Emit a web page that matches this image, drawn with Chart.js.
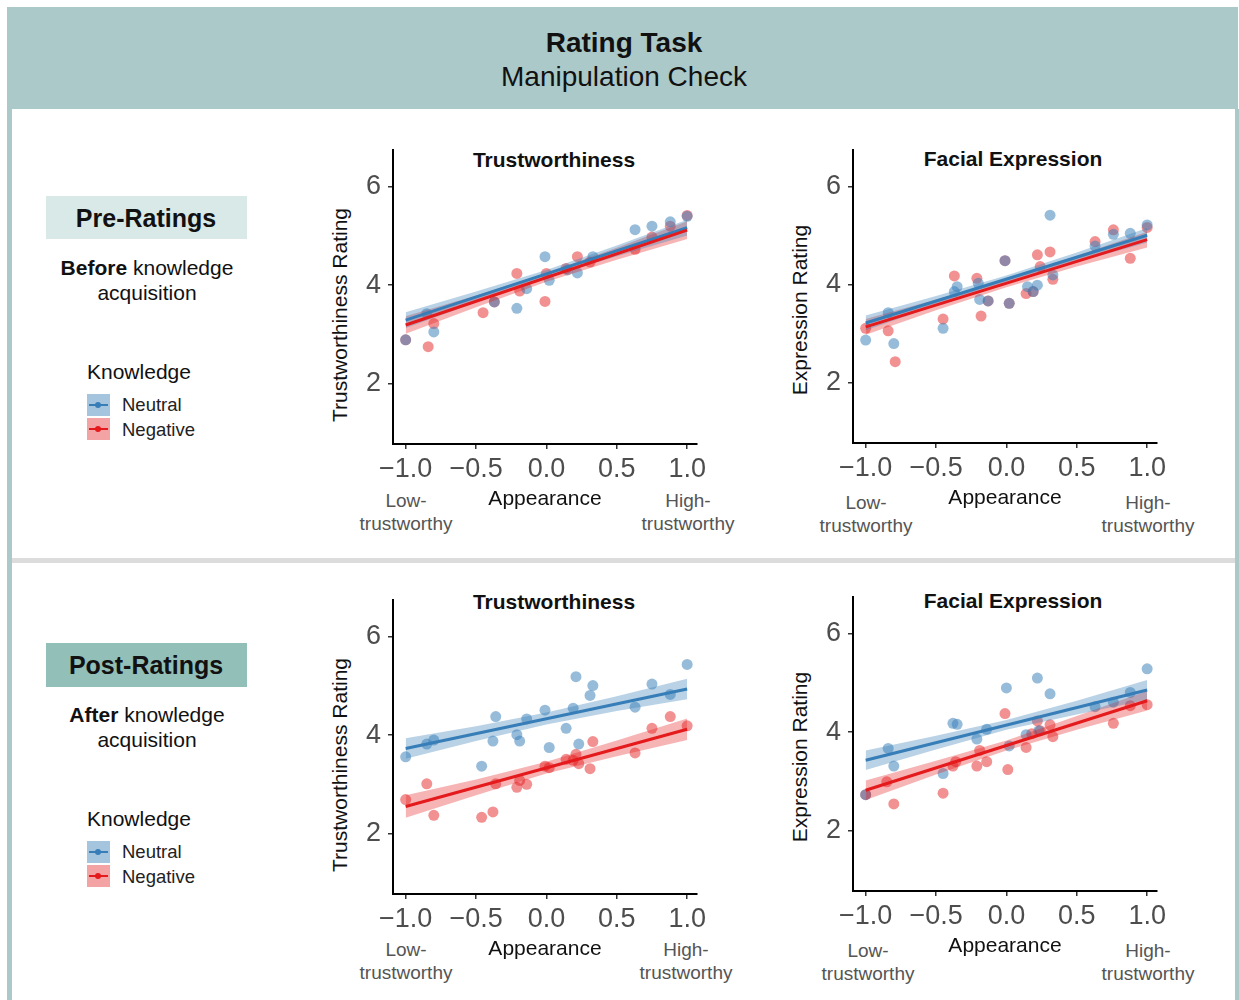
<!DOCTYPE html>
<html>
<head>
<meta charset="utf-8">
<script src="https://cdn.jsdelivr.net/npm/chart.js@4.4.1/dist/chart.umd.min.js"></script>
<style>
  body { margin: 0; background: #fff; font-family: "Liberation Sans", Arial, sans-serif; }
  #page { position: relative; width: 1239px; height: 1000px; overflow: hidden; background: #fff; }
  .abs { position: absolute; }
  .ctr { position: absolute; transform: translate(-50%, -50%); white-space: nowrap; text-align: center; }
  .rot { position: absolute; transform: translate(-50%, -50%) rotate(-90deg); white-space: nowrap; font-size: 21px; color: #111; }
  canvas { position: absolute; }
  .key { position: absolute; width: 23px; height: 22px; }
  .key i { position: absolute; left: 2px; right: 2px; top: 10px; height: 2px; }
  .key b { position: absolute; left: 8px; top: 8px; width: 6px; height: 6px; border-radius: 50%; }
</style>
</head>
<body>
<div id="page">
  <!-- frame -->
  <div class="abs" style="left:7px;top:7px;width:1231px;height:102px;background:#abc9c9;"></div>
  <div class="abs" style="left:7px;top:109px;width:5px;height:891px;background:#abc9c9;"></div>
  <div class="abs" style="left:1235px;top:109px;width:4px;height:891px;background:#abc9c9;"></div>
  <div class="abs" style="left:12px;top:558px;width:1223px;height:5px;background:#dcdcdc;"></div>

  <div class="ctr" style="left:624px;top:43px;font-size:28px;font-weight:bold;color:#111;">Rating Task</div>
  <div class="ctr" style="left:624px;top:77px;font-size:28px;color:#111;">Manipulation Check</div>

  <!-- pre side panel -->
  <div class="abs" style="left:46px;top:196px;width:201px;height:43px;background:#d9e9e7;"></div>
  <div class="ctr" style="left:146px;top:218px;font-size:25px;font-weight:bold;color:#111;">Pre-Ratings</div>
  <div class="ctr" style="left:147px;top:268px;font-size:21px;color:#111;"><b>Before</b> knowledge</div>
  <div class="ctr" style="left:147px;top:293px;font-size:21px;color:#111;">acquisition</div>
  <div class="abs" style="left:87px;top:360px;font-size:21px;color:#111;">Knowledge</div>
  <div class="key" style="left:87px;top:394px;background:rgba(55,126,184,0.45);"><i style="background:#377eb8"></i><b style="background:#377eb8"></b></div>
  <div class="key" style="left:87px;top:418px;background:rgba(228,26,28,0.4);"><i style="background:#e41a1c"></i><b style="background:#e41a1c"></b></div>
  <div class="abs" style="left:122px;top:394px;font-size:18.5px;color:#222;">Neutral</div>
  <div class="abs" style="left:122px;top:419px;font-size:18.5px;color:#222;">Negative</div>

  <!-- post side panel -->
  <div class="abs" style="left:46px;top:643px;width:201px;height:44px;background:#92bfb8;"></div>
  <div class="ctr" style="left:146px;top:665px;font-size:25px;font-weight:bold;color:#111;">Post-Ratings</div>
  <div class="ctr" style="left:147px;top:715px;font-size:21px;color:#111;"><b>After</b> knowledge</div>
  <div class="ctr" style="left:147px;top:740px;font-size:21px;color:#111;">acquisition</div>
  <div class="abs" style="left:87px;top:807px;font-size:21px;color:#111;">Knowledge</div>
  <div class="key" style="left:87px;top:841px;background:rgba(55,126,184,0.45);"><i style="background:#377eb8"></i><b style="background:#377eb8"></b></div>
  <div class="key" style="left:87px;top:865px;background:rgba(228,26,28,0.4);"><i style="background:#e41a1c"></i><b style="background:#e41a1c"></b></div>
  <div class="abs" style="left:122px;top:841px;font-size:18.5px;color:#222;">Neutral</div>
  <div class="abs" style="left:122px;top:866px;font-size:18.5px;color:#222;">Negative</div>

  <!-- plot titles -->
  <div class="ctr" style="left:554px;top:160px;font-size:21px;font-weight:bold;color:#111;">Trustworthiness</div>
  <div class="ctr" style="left:1013px;top:159px;font-size:21px;font-weight:bold;color:#111;">Facial Expression</div>
  <div class="ctr" style="left:554px;top:602px;font-size:21px;font-weight:bold;color:#111;">Trustworthiness</div>
  <div class="ctr" style="left:1013px;top:601px;font-size:21px;font-weight:bold;color:#111;">Facial Expression</div>

  <!-- y axis titles -->
  <div class="rot" style="left:340px;top:315px;">Trustworthiness Rating</div>
  <div class="rot" style="left:800px;top:310px;">Expression Rating</div>
  <div class="rot" style="left:340px;top:765px;">Trustworthiness Rating</div>
  <div class="rot" style="left:800px;top:757px;">Expression Rating</div>

  <!-- end labels under the x axis -->
  <div class="ctr" style="left:406px;top:512px;font-size:19px;color:#555;line-height:23px;">Low-<br>trustworthy</div>
  <div class="ctr" style="left:688px;top:512px;font-size:19px;color:#555;line-height:23px;">High-<br>trustworthy</div>
  <div class="ctr" style="left:866px;top:514px;font-size:19px;color:#555;line-height:23px;">Low-<br>trustworthy</div>
  <div class="ctr" style="left:1148px;top:514px;font-size:19px;color:#555;line-height:23px;">High-<br>trustworthy</div>
  <div class="ctr" style="left:406px;top:961px;font-size:19px;color:#555;line-height:23px;">Low-<br>trustworthy</div>
  <div class="ctr" style="left:686px;top:961px;font-size:19px;color:#555;line-height:23px;">High-<br>trustworthy</div>
  <div class="ctr" style="left:868px;top:962px;font-size:19px;color:#555;line-height:23px;">Low-<br>trustworthy</div>
  <div class="ctr" style="left:1148px;top:962px;font-size:19px;color:#555;line-height:23px;">High-<br>trustworthy</div>

  <canvas id="preTrust"></canvas>
  <canvas id="preExpr"></canvas>
  <canvas id="postTrust"></canvas>
  <canvas id="postExpr"></canvas>
</div>

<script>
// axis ticks
const xTicks = [-1, -0.5, 0, 0.5, 1];
const yTicks = [2, 4, 6];
const fitX = [-1, 1];
const bandX = [-1, -0.5, 0, 0.5, 1];

// Pre-ratings, Trustworthiness
const preTrustNeutralX = [-1.0, -0.85, -0.80, -0.37, -0.21, -0.14, -0.01, 0.02, 0.15, 0.22, 0.33, 0.63, 0.75, 0.88, 1.0];
const preTrustNeutralY = [2.89, 3.42, 3.05, 3.66, 3.53, 3.93, 4.58, 4.10, 4.31, 4.25, 4.58, 5.13, 5.20, 5.29, 5.40];
const preTrustNegativeX = [-1.0, -0.84, -0.80, -0.45, -0.37, -0.21, -0.19, -0.01, 0.0, 0.14, 0.22, 0.31, 0.63, 0.75, 0.88, 1.0];
const preTrustNegativeY = [2.89, 2.75, 3.22, 3.44, 3.66, 4.24, 3.88, 3.67, 4.24, 4.34, 4.58, 4.47, 4.73, 4.98, 5.20, 5.42];
const preTrustNeutralFit = [3.29, 5.17];
const preTrustNegativeFit = [3.19, 5.12];
const preTrustNeutralLo = [3.13, 3.65, 4.15, 4.59, 5.01];
const preTrustNeutralHi = [3.45, 3.87, 4.31, 4.81, 5.33];
const preTrustNegativeLo = [3.01, 3.55, 4.07, 4.52, 4.94];
const preTrustNegativeHi = [3.37, 3.79, 4.25, 4.76, 5.30];

// Pre-ratings, Facial Expression
const preExprNeutralX = [-1.0, -0.84, -0.80, -0.45, -0.37, -0.35, -0.20, -0.19, -0.13, -0.01, 0.02, 0.15, 0.19, 0.22, 0.31, 0.33, 0.63, 0.76, 0.88, 1.0];
const preExprNeutralY = [2.87, 3.43, 2.80, 3.11, 3.86, 3.96, 4.03, 3.70, 3.67, 4.49, 3.62, 3.96, 3.86, 3.99, 5.42, 4.20, 4.79, 5.03, 5.05, 5.22];
const preExprNegativeX = [-1.0, -0.84, -0.79, -0.45, -0.37, -0.21, -0.18, -0.13, -0.01, 0.02, 0.14, 0.19, 0.22, 0.24, 0.31, 0.33, 0.63, 0.76, 0.88, 1.0];
const preExprNegativeY = [3.11, 3.06, 2.43, 3.30, 4.18, 4.13, 3.36, 3.67, 4.49, 3.62, 3.82, 3.86, 4.61, 4.37, 4.67, 4.11, 4.88, 5.12, 4.54, 5.17];
const preExprNeutralFit = [3.22, 5.01];
const preExprNegativeFit = [3.14, 4.92];
const preExprNeutralLo = [3.07, 3.57, 4.05, 4.46, 4.86];
const preExprNeutralHi = [3.37, 3.77, 4.19, 4.66, 5.16];
const preExprNegativeLo = [2.98, 3.48, 3.95, 4.37, 4.76];
const preExprNegativeHi = [3.30, 3.70, 4.11, 4.59, 5.08];

// Post-ratings, Trustworthiness
const postTrustNeutralX = [-1.0, -0.85, -0.80, -0.46, -0.38, -0.36, -0.21, -0.19, -0.14, -0.01, 0.02, 0.14, 0.19, 0.21, 0.23, 0.31, 0.33, 0.63, 0.75, 0.88, 1.0];
const postTrustNeutralY = [3.56, 3.82, 3.90, 3.37, 3.88, 4.38, 4.01, 3.88, 4.33, 4.51, 3.75, 4.14, 4.55, 5.19, 3.82, 4.81, 5.01, 4.57, 5.04, 4.83, 5.44];
const postTrustNegativeX = [-1.0, -0.85, -0.80, -0.46, -0.38, -0.36, -0.21, -0.19, -0.14, -0.01, 0.02, 0.14, 0.19, 0.21, 0.23, 0.31, 0.33, 0.63, 0.75, 0.88, 1.0];
const postTrustNegativeY = [2.69, 3.01, 2.37, 2.33, 2.44, 3.01, 2.94, 3.08, 3.00, 3.37, 3.34, 3.51, 3.49, 3.61, 3.42, 3.32, 3.87, 3.64, 4.14, 4.38, 4.19];
const postTrustNeutralFit = [3.73, 4.94];
const postTrustNegativeFit = [2.55, 4.12];
const postTrustNeutralLo = [3.52, 3.88, 4.22, 4.49, 4.73];
const postTrustNeutralHi = [3.94, 4.18, 4.46, 4.79, 5.15];
const postTrustNegativeLo = [2.32, 2.78, 3.22, 3.57, 3.90];
const postTrustNegativeHi = [2.78, 3.10, 3.46, 3.89, 4.34];

// Post-ratings, Facial Expression
const postExprNeutralX = [-1.0, -0.84, -0.80, -0.45, -0.38, -0.35, -0.21, -0.14, 0.0, 0.02, 0.14, 0.22, 0.23, 0.31, 0.63, 0.76, 0.88, 1.0];
const postExprNeutralY = [2.73, 3.67, 3.31, 3.16, 4.18, 4.16, 3.86, 4.06, 4.90, 3.72, 3.95, 5.10, 4.03, 4.78, 4.52, 4.61, 4.81, 5.29];
const postExprNegativeX = [-1.0, -0.85, -0.80, -0.45, -0.38, -0.36, -0.21, -0.19, -0.14, -0.01, 0.01, 0.14, 0.18, 0.22, 0.24, 0.31, 0.33, 0.76, 0.88, 1.0];
const postExprNegativeY = [2.73, 2.99, 2.54, 2.76, 3.31, 3.40, 3.31, 3.63, 3.40, 4.38, 3.24, 3.69, 3.97, 4.23, 4.03, 4.15, 3.91, 4.18, 4.54, 4.56];
const postExprNeutralFit = [3.43, 4.86];
const postExprNegativeFit = [2.82, 4.64];
const postExprNeutralLo = [3.23, 3.65, 4.05, 4.36, 4.66];
const postExprNeutralHi = [3.63, 3.93, 4.25, 4.64, 5.06];
const postExprNegativeLo = [2.62, 3.14, 3.63, 4.05, 4.44];
const postExprNegativeHi = [3.02, 3.42, 3.83, 4.33, 4.84];

const BLUE = '#377eb8';
const RED = '#e41a1c';

function pts(xs, ys) {
    return xs.map((x, i) => ({ x: x, y: ys[i] }));
}

function groupDatasets(g, color, fill, dot) {
    return [
        // raw points at the bottom
        { type: 'scatter', data: pts(g.x, g.y), pointRadius: 5.5, pointBackgroundColor: dot,
          pointBorderWidth: 0, order: 5 },
        // confidence band (lower then upper filled to lower)
        { type: 'line', data: pts(bandX, g.lo), borderWidth: 0, pointRadius: 0, fill: false, order: 3 },
        { type: 'line', data: pts(bandX, g.hi), borderWidth: 0, pointRadius: 0, fill: '-1',
          backgroundColor: fill, order: 3 },
        // fitted line
        { type: 'line', data: pts(fitX, g.fit), borderColor: color, borderWidth: 3, pointRadius: 0,
          fill: false, order: 1 }
    ];
}

function makeChart(id, area, neutral, negative) {
    // area = chart area in page pixels
    const yAxisW = 73, xAxisH = 76, padTop = 10, padRight = 25;
    const canvas = document.getElementById(id);
    const w = yAxisW + (area.right - area.left) + padRight;
    const h = padTop + (area.bottom - area.top) + xAxisH;
    canvas.width = w;
    canvas.height = h;
    canvas.style.left = (area.left - yAxisW) + 'px';
    canvas.style.top = (area.top - padTop) + 'px';

    const datasets = []
        .concat(groupDatasets(neutral, BLUE, 'rgba(55,126,184,0.35)', 'rgba(55,126,184,0.52)'))
        .concat(groupDatasets(negative, RED, 'rgba(228,26,28,0.33)', 'rgba(228,26,28,0.48)'));
    // negative line sits a bit above the neutral one
    datasets[7].order = 0;

    // keep the plot box exactly where it should be
    const noPad = s => { s.paddingTop = 0; s.paddingBottom = 0; s.paddingLeft = 0; s.paddingRight = 0; };

    return new Chart(canvas, {
        type: 'scatter',
        data: { datasets: datasets },
        options: {
            responsive: false,
            animation: false,
            devicePixelRatio: 1,
            layout: { padding: { top: padTop, right: padRight, left: 0, bottom: 0 } },
            plugins: { legend: { display: false }, tooltip: { enabled: false } },
            scales: {
                x: {
                    type: 'linear',
                    min: -1.09, max: 1.07,
                    afterBuildTicks: s => { s.ticks = xTicks.map(v => ({ value: v })); },
                    afterFit: s => { s.height = xAxisH; noPad(s); },
                    ticks: {
                        color: '#4d4d4d', padding: 4, maxRotation: 0, autoSkip: false,
                        font: { family: 'Liberation Sans', size: 27 },
                        callback: v => (v < 0 ? '\u2212' : '') + Math.abs(v).toFixed(1)
                    },
                    grid: { drawOnChartArea: false, drawTicks: true, tickLength: 5, color: '#333', lineWidth: 1.5 },
                    border: { display: true, color: '#000', width: 2 },
                    title: { display: true, text: 'Appearance', color: '#111',
                             font: { family: 'Liberation Sans', size: 21 }, padding: { top: 0, bottom: 8 } }
                },
                y: {
                    min: 0.77, max: 6.75,
                    afterBuildTicks: s => { s.ticks = yTicks.map(v => ({ value: v })); },
                    afterFit: s => { s.width = yAxisW; noPad(s); },
                    ticks: {
                        color: '#4d4d4d', padding: 7,
                        font: { family: 'Liberation Sans', size: 27 },
                        callback: v => String(v)
                    },
                    grid: { drawOnChartArea: false, drawTicks: true, tickLength: 5, color: '#333', lineWidth: 1.5 },
                    border: { display: true, color: '#000', width: 2 }
                }
            }
        }
    });
}

makeChart('preTrust', { left: 393, right: 697, top: 150, bottom: 444 },
    { x: preTrustNeutralX, y: preTrustNeutralY, fit: preTrustNeutralFit, lo: preTrustNeutralLo, hi: preTrustNeutralHi },
    { x: preTrustNegativeX, y: preTrustNegativeY, fit: preTrustNegativeFit, lo: preTrustNegativeLo, hi: preTrustNegativeHi });

makeChart('preExpr', { left: 853, right: 1157, top: 150, bottom: 443 },
    { x: preExprNeutralX, y: preExprNeutralY, fit: preExprNeutralFit, lo: preExprNeutralLo, hi: preExprNeutralHi },
    { x: preExprNegativeX, y: preExprNegativeY, fit: preExprNegativeFit, lo: preExprNegativeLo, hi: preExprNegativeHi });

makeChart('postTrust', { left: 393, right: 697, top: 600, bottom: 894 },
    { x: postTrustNeutralX, y: postTrustNeutralY, fit: postTrustNeutralFit, lo: postTrustNeutralLo, hi: postTrustNeutralHi },
    { x: postTrustNegativeX, y: postTrustNegativeY, fit: postTrustNegativeFit, lo: postTrustNegativeLo, hi: postTrustNegativeHi });

makeChart('postExpr', { left: 853, right: 1157, top: 597, bottom: 891 },
    { x: postExprNeutralX, y: postExprNeutralY, fit: postExprNeutralFit, lo: postExprNeutralLo, hi: postExprNeutralHi },
    { x: postExprNegativeX, y: postExprNegativeY, fit: postExprNegativeFit, lo: postExprNegativeLo, hi: postExprNegativeHi });
</script>
</body>
</html>
